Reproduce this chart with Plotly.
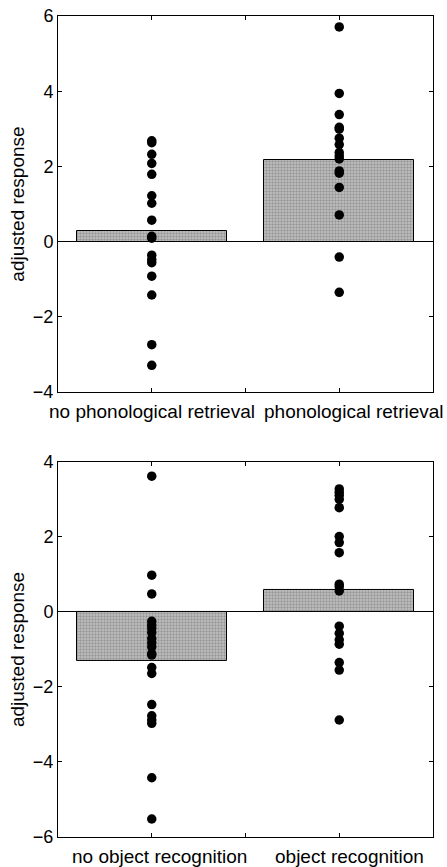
import plotly.graph_objects as go
from plotly.subplots import make_subplots

# ---- data ----
top_categories = ["no phonological retrieval", "phonological retrieval"]
top_means = [0.27, 2.17]
top_left_pts = [2.68, 2.63, 2.32, 2.08, 1.79, 1.22, 1.02, 0.57, 0.14, 0.09,
                -0.36, -0.48, -0.56, -0.92, -1.42, -2.74, -3.29]
top_right_pts = [5.71, 3.94, 3.38, 3.04, 2.99, 2.75, 2.58, 2.37, 2.28, 2.20,
                 1.88, 1.82, 1.44, 0.71, -0.41, -1.35]

bot_categories = ["no object recognition", "object recognition"]
bot_means = [-1.31, 0.58]
bot_left_pts = [3.62, 0.98, 0.48, -0.25, -0.35, -0.44, -0.55, -0.71, -0.82, -0.93,
                -1.11, -1.15, -1.48, -1.64, -2.47, -2.77, -2.88, -2.97, -4.42, -5.52]
bot_right_pts = [3.28, 3.19, 3.11, 3.00, 2.78, 2.01, 1.85, 1.58, 0.74, 0.67, 0.56,
                 -0.38, -0.57, -0.74, -0.86, -1.35, -1.55, -2.88]

x_pos = [1, 2]
y_tick_vals_top = [-4, -2, 0, 2, 4, 6]
y_tick_vals_bot = [-6, -4, -2, 0, 2, 4]

FONT = "Liberation Sans, Arial, sans-serif"

fig = make_subplots(rows=2, cols=1)

bar_marker = dict(
    color="#bdbdbd",
    line=dict(color="black", width=1),
    pattern=dict(shape=".", fgcolor="#6a6a6a", bgcolor="#c4c4c4", size=3, solidity=0.5),
)

def add_panel(row, means, left_pts, right_pts):
    fig.add_trace(go.Bar(x=x_pos, y=means, width=0.8, marker=bar_marker,
                         showlegend=False), row=row, col=1)
    fig.add_trace(go.Scatter(x=[x_pos[0]] * len(left_pts), y=left_pts, mode="markers",
                             marker=dict(color="black", size=9.5), showlegend=False),
                  row=row, col=1)
    fig.add_trace(go.Scatter(x=[x_pos[1]] * len(right_pts), y=right_pts, mode="markers",
                             marker=dict(color="black", size=9.5), showlegend=False),
                  row=row, col=1)

add_panel(1, top_means, top_left_pts, top_right_pts)
add_panel(2, bot_means, bot_left_pts, bot_right_pts)

common_axis = dict(
    showline=True, linecolor="black", linewidth=1, mirror="ticks",
    ticks="inside", ticklen=4, tickcolor="black",
    showgrid=False, automargin=False,
)

fig.update_xaxes(range=[0.5, 2.5], tickvals=[1, 1.5, 2], ticktext=["", "", ""],
                 zeroline=False, **common_axis)

fig.update_yaxes(zeroline=True, zerolinecolor="black", zerolinewidth=1,
                 tickfont=dict(family=FONT, size=18, color="black"),
                 title=dict(text="adjusted response", font=dict(family=FONT, size=19, color="black"),
                            standoff=3),
                 **common_axis)
fig.update_yaxes(range=[-4, 6], tickvals=y_tick_vals_top,
                 ticktext=[str(v).replace("-", "\u2212") for v in y_tick_vals_top], row=1, col=1)
fig.update_yaxes(range=[-6, 4], tickvals=y_tick_vals_bot,
                 ticktext=[str(v).replace("-", "\u2212") for v in y_tick_vals_bot], row=2, col=1)

# category labels under each panel (positioned like the original figure)
label_shifts = {1: [0, 15], 2: [8, 10]}
for row, cats in ((1, top_categories), (2, bot_categories)):
    xref = "x" if row == 1 else "x2"
    yref = "y domain" if row == 1 else "y2 domain"
    for i, (xv, txt) in enumerate(zip(x_pos, cats)):
        fig.add_annotation(x=xv, y=0, xref=xref, yref=yref, text=txt, showarrow=False,
                           xanchor="center", yanchor="top", xshift=label_shifts[row][i],
                           yshift=-7, font=dict(family=FONT, size=19, color="black"))

fig.update_layout(
    width=447, height=867,
    margin=dict(l=58, r=14, t=16, b=30),
    plot_bgcolor="white", paper_bgcolor="white",
    bargap=0,
    font=dict(family=FONT, color="black"),
    xaxis=dict(domain=[0, 1]),
    yaxis=dict(domain=[0.542, 1.0]),
    xaxis2=dict(domain=[0, 1]),
    yaxis2=dict(domain=[0.0, 0.4568]),
)

fig.write_html("out.html")
